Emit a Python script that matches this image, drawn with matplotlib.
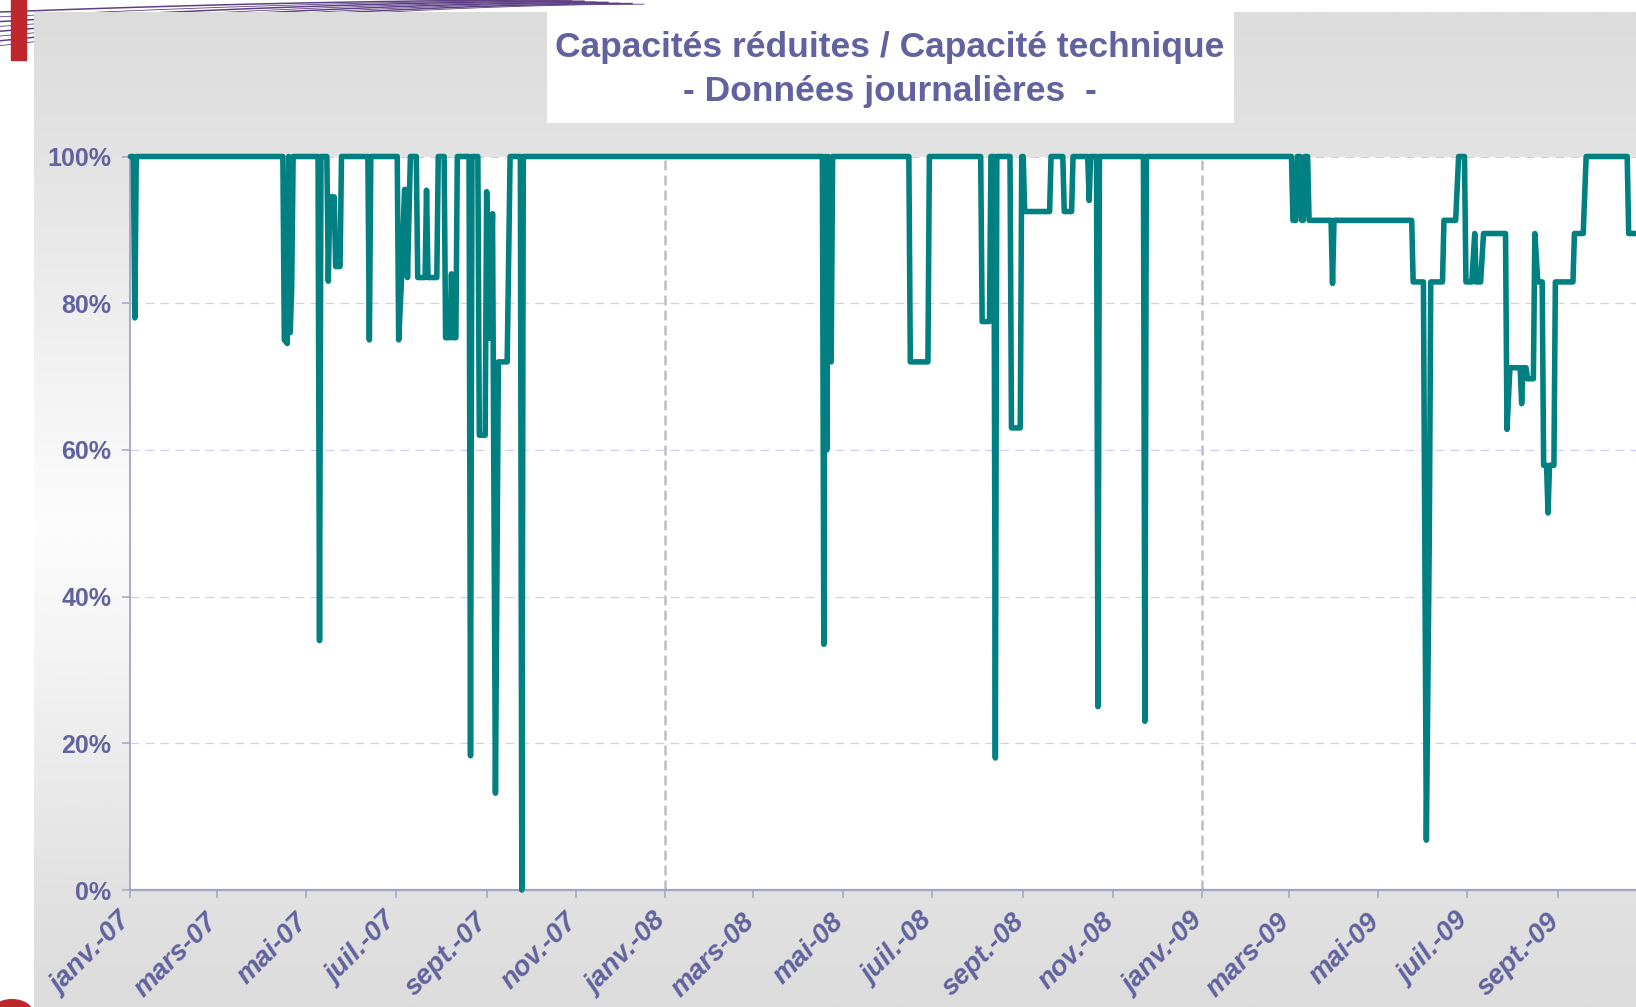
import numpy as np
import pandas as pd
import matplotlib
matplotlib.use("Agg")
import matplotlib.pyplot as plt
import matplotlib.transforms as mtransforms
from matplotlib.patches import Rectangle, Wedge
from matplotlib.colors import LinearSegmentedColormap

# ---------------- data ----------------
start_date = "2007-01-01"
# breakpoints of the daily series: day offset from start_date and value (%)
day_offsets = [
    0, 2, 3, 4,
    104, 105, 107, 108, 109, 110, 111,
    128, 129, 130,
    134, 135, 136, 139, 140, 143, 144,
    162, 163, 164,
    182, 183, 185, 187, 188, 189, 191, 195, 196, 201, 202, 203, 209, 210,
    214, 215, 218, 219, 220, 222, 223,
    231, 232, 233, 237, 238, 242, 243, 245, 247, 249, 251, 257, 259,
    266, 267, 268,
    471, 472, 473, 474, 475, 476, 477, 478, 479,
    531, 532, 544, 545,
    580, 581, 586, 587, 589, 590, 591,
    600, 601, 607, 608, 609, 610, 627, 628,
    636, 637, 642, 643, 653, 654, 655, 659, 660, 661,
    691, 692, 693,
    792, 793, 795, 796, 798, 799, 800, 801, 803, 804,
    819, 820, 821,
    874, 875, 882, 884, 886, 887, 895, 896, 904, 906, 910, 911, 915, 917, 918,
    921, 923, 938, 939, 941, 948, 949, 950, 952, 953, 957, 958, 960, 963,
    964, 966, 967, 968, 971, 972, 984, 985, 991, 993, 1021, 1022, 1027,
]
capacity_pct = [
    100, 100, 78, 100,
    100, 75, 74.5, 100, 76, 82, 100,
    100, 34, 100,
    100, 83, 94.5, 94.5, 85, 85, 100,
    100, 75, 100,
    100, 75, 83.5, 95.5, 95.5, 83.5, 100, 100, 83.5, 83.5, 95.4, 83.5, 83.5, 100,
    100, 75.3, 75.3, 84, 75.3, 75.3, 100,
    100, 18.3, 100, 100, 62, 62, 95.2, 75.2, 92.2, 13.2, 72, 72, 100,
    100, 0, 100,
    100, 100, 33.5, 100, 60, 100, 80, 72, 100,
    100, 72, 72, 100,
    100, 77.5, 77.5, 100, 100, 18, 100,
    100, 63, 63, 100, 100, 92.5, 92.5, 100,
    100, 92.5, 92.5, 100, 100, 94, 100, 100, 25, 100,
    100, 23, 100,
    100, 91.3, 91.3, 100, 100, 91.3, 91.3, 100, 100, 91.3,
    91.3, 82.7, 91.3,
    91.3, 82.9, 82.9, 6.8, 48, 82.9, 82.9, 91.3, 91.3, 100, 100, 82.9, 82.9, 89.5, 82.9,
    82.9, 89.5, 89.5, 62.8, 71.2, 71.2, 66.3, 71.2, 71.2, 69.7, 69.7, 89.5, 82.9, 82.9,
    57.9, 57.9, 51.4, 57.9, 57.9, 82.9, 82.9, 89.5, 89.5, 100, 100, 89.5, 89.5,
]
tick_dates = ["2007-01-01", "2007-03-01", "2007-05-01", "2007-07-01", "2007-09-01",
              "2007-11-01", "2008-01-01", "2008-03-01", "2008-05-01", "2008-07-01",
              "2008-09-01", "2008-11-01", "2009-01-01", "2009-03-01", "2009-05-01",
              "2009-07-01", "2009-09-01"]
tick_labels = ["janv.-07", "mars-07", "mai-07", "juil.-07", "sept.-07", "nov.-07",
               "janv.-08", "mars-08", "mai-08", "juil.-08", "sept.-08", "nov.-08",
               "janv.-09", "mars-09", "mai-09", "juil.-09", "sept.-09"]
year_separators = ["2008-01-01", "2009-01-01"]
y_ticks = [0, 20, 40, 60, 80, 100]
y_tick_labels = ["0%", "20%", "40%", "60%", "80%", "100%"]
title_line1 = "Capacités réduites / Capacité technique"
title_line2 = "- Données journalières  -"
x_end_days = 1027

# ---------------- styling ----------------
W, H = 1636, 1007
TXT = "#62629E"
TEAL = "#008080"
FONT = "Liberation Sans"
plt.rcParams["font.family"] = [FONT, "DejaVu Sans"]

fig = plt.figure(figsize=(W / 100, H / 100), dpi=100)
fig.patch.set_facecolor("white")

def fx(px):
    return px / W

def fy(py):
    return 1 - py / H

# decorative swooshes (top-left) and red marks
t = np.linspace(0, 1, 200)
for i in range(8):
    xs = t * (560 + i * 12)
    ys = (12 + i * 4.2) * (1 - t) ** 1.8 + i * 0.6
    fig.add_artist(plt.Line2D(fx(xs), fy(ys), color="#5E4184",
                              lw=0.6 if i % 2 else 1.1, zorder=-5))
fig.add_artist(Rectangle((fx(11), fy(60)), fx(15), 60 / H, color="#C0272D", zorder=-4))
fig.add_artist(Wedge((fx(12), fy(1012)), 20 / W, 0, 180, color="#C0272D", zorder=-4))

# grey gradient background panel
bg = fig.add_axes([fx(34), 0, 1 - fx(34), 1 - 12 / H], zorder=-1)
bg.set_axis_off()
cmap = LinearSegmentedColormap.from_list(
    "bggrad", [(0.0, "#dcdcdc"), (0.14, "#e3e3e3"), (0.52, "#fdfdfd"),
               (0.88, "#e2e2e2"), (1.0, "#dcdcdc")])
grad = np.linspace(0, 1, 400).reshape(-1, 1)
bg.imshow(grad, aspect="auto", cmap=cmap, extent=[0, 1, 0, 1], origin="upper")
bg.set_xlim(0, 1)
bg.set_ylim(0, 1)

# title box
fig.add_artist(Rectangle((fx(547), fy(123)), fx(1234 - 547), (123 - 11) / H,
                         facecolor="white", edgecolor="none", zorder=1))
fig.text(fx(890), fy(47), title_line1, ha="center", va="center", fontsize=25.5,
         fontweight="bold", color=TXT, zorder=2)
fig.text(fx(890), fy(92), title_line2, ha="center", va="center", fontsize=25.5,
         fontweight="bold", color=TXT, zorder=2)

# main plot area
ax = fig.add_axes([fx(130.4), fy(890), 1 - fx(130.4), (890 - 156.5) / H], zorder=2)
ax.set_facecolor("white")

start = pd.Timestamp(start_date)
dates = start + pd.to_timedelta(day_offsets, unit="D")
ax.set_xlim(start, start + pd.Timedelta(days=x_end_days))
ax.set_ylim(0, 100)

ax.set_yticks(y_ticks)
ax.set_yticklabels(y_tick_labels)
ax.yaxis.grid(True, color="#CCCCFF", lw=0.9, linestyle=(0, (7, 5)))
ax.set_axisbelow(True)

for d in year_separators:
    ax.axvline(pd.Timestamp(d), color="#BFBFBF", lw=1.8, linestyle=(0, (4, 2)), zorder=1.5)

ax.plot(dates, capacity_pct, color=TEAL, lw=4.0, solid_joinstyle="round",
        solid_capstyle="round", zorder=3, clip_on=False)

ax.set_xticks(pd.to_datetime(tick_dates))
ax.set_xticklabels(tick_labels, rotation=45, ha="right", va="top",
                   rotation_mode="anchor")

for s in ["top", "right"]:
    ax.spines[s].set_visible(False)
ax.spines["left"].set_color("#A3A3C2")
ax.spines["left"].set_linewidth(1.3)
ax.spines["bottom"].set_color("#A3A3C2")
ax.spines["bottom"].set_linewidth(1.6)

ax.tick_params(axis="both", colors="#A3A3C2", width=1.1, length=5.8, direction="out")
ax.tick_params(axis="y", pad=8)
ax.tick_params(axis="x", pad=6)
for lab in ax.get_yticklabels():
    lab.set_color(TXT)
    lab.set_fontsize(18)
    lab.set_fontweight("bold")
shift = mtransforms.ScaledTranslation(-12 / 100, -2 / 100, fig.dpi_scale_trans)
for lab in ax.get_xticklabels():
    lab.set_color(TXT)
    lab.set_fontsize(20)
    lab.set_fontweight("bold")
    lab.set_fontstyle("italic")
    lab.set_transform(lab.get_transform() + shift)

fig.savefig("out.png", dpi=100)
